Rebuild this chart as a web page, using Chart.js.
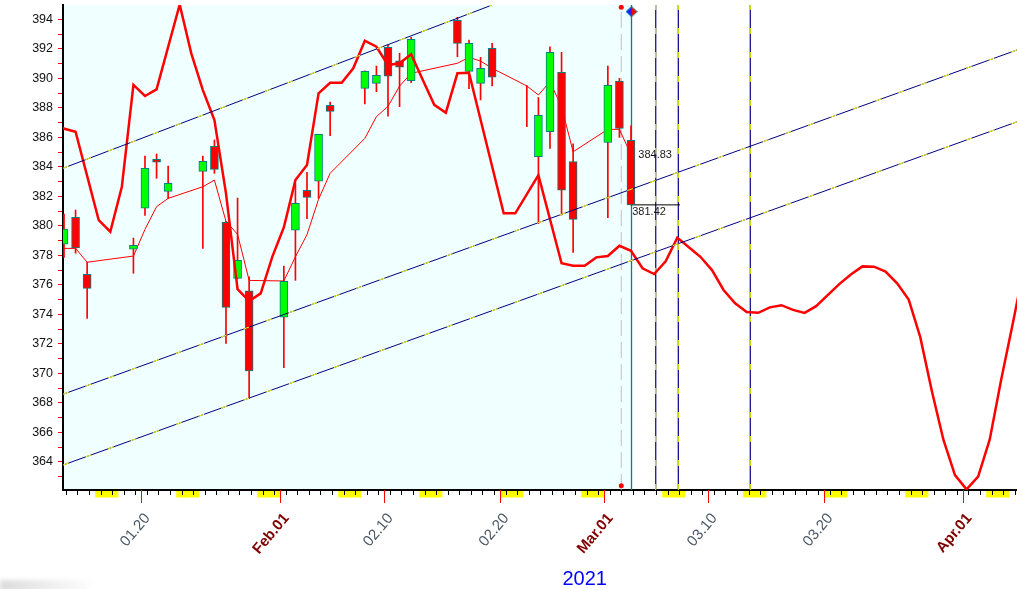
<!DOCTYPE html>
<html>
<head>
<meta charset="utf-8">
<title>2021 candles</title>
<script src="https://cdn.jsdelivr.net/npm/chart.js@4.4.0/dist/chart.umd.min.js"></script>
<style>
html, body { margin: 0; padding: 0; background: #fff; }
#wrap { position: relative; width: 1017px; height: 589px; overflow: hidden; }
#shade { position: absolute; left: 0; top: 580px; width: 95px; height: 12px;
  background: linear-gradient(to right, rgba(205,205,205,0.7), rgba(205,205,205,0)); filter: blur(2px); }
</style>
</head>
<body>
<div id="wrap">
  <canvas id="chart" width="1017" height="589"></canvas>
  <div id="shade"></div>
</div>
<script>
const FONT = "'Liberation Sans', Arial, sans-serif";

// days counted from Jan 1 2021 = 1
const candleDays = [13, 14, 15, 19, 20, 21, 22, 25, 26, 27, 28, 29, 32, 33, 34, 35, 36, 39, 40, 41, 42, 43, 47, 48, 49, 50, 53, 54, 55, 56, 57, 60, 61, 62];
const opens  = [378.76, 380.58, 376.71, 378.41, 381.19, 384.51, 382.34, 383.69, 385.39, 380.24, 376.44, 375.6, 373.8, 379.71, 382.41, 383.02, 388.17, 389.32, 389.66, 392.1, 391.19, 389.84, 393.93, 390.47, 389.66, 392.03, 387.05, 384.68, 386.38, 390.41, 384.35, 385.66, 389.82, 385.8];
const highs  = [380.8, 381.07, 377.53, 379.17, 384.73, 384.87, 384.05, 384.73, 385.82, 380.3, 381.88, 376.55, 377.27, 382.9, 383.63, 386.2, 388.39, 390.5, 390.83, 392.26, 391.7, 392.78, 394.14, 392.6, 391.42, 392.37, 389.5, 388.7, 392.14, 391.76, 385.55, 390.83, 390.0, 386.77];
const lows   = [377.86, 378.14, 373.73, 376.78, 380.71, 383.22, 381.86, 378.47, 383.56, 372.03, 376.4, 368.3, 370.38, 376.3, 380.49, 381.86, 386.11, 388.26, 389.09, 387.44, 388.08, 389.7, 391.46, 389.3, 388.53, 389.48, 386.72, 380.15, 385.25, 380.73, 378.2, 380.55, 386.0, 381.42];
const closes = [379.78, 378.51, 375.76, 378.68, 383.9, 384.31, 382.88, 384.37, 383.83, 374.47, 377.66, 370.16, 376.24, 381.53, 381.93, 386.2, 387.76, 390.47, 390.2, 390.14, 390.75, 392.64, 392.37, 392.37, 390.68, 390.07, 387.05, 387.49, 391.76, 382.41, 380.44, 389.53, 386.61, 381.42];
const avgValues = [378.47, 378.47, 377.53, 377.95, 379.76, 381.3, 381.86, 382.65, 383.1, 380.3, 379.42, 376.3, 376.26, 377.9, 379.4, 381.8, 383.56, 385.93, 387.4, 388.1, 389.47, 390.34, 391.02, 391.42, 391.17, 390.68, 389.48, 388.87, 389.77, 388.07, 385.02, 386.54, 386.54, 384.83];

// thick cycle line
const cycleDays = [12.9, 14, 16, 17, 18, 19, 20, 21, 23, 24, 25, 26, 27, 28, 29, 30, 31, 32, 33, 34, 35, 36, 37, 38, 39, 40, 41, 42, 43, 44, 45, 46, 47, 48, 51, 52, 54, 56, 57, 58, 59, 60, 61, 62, 63, 64, 65, 66, 67, 68, 69, 70, 71, 72, 73, 74, 75, 76, 77, 78, 79, 80, 81, 82, 83, 84, 85, 86, 87, 88, 89, 90, 91, 92, 93, 94, 95, 96];
const cycleValues = [386.61, 386.38, 380.39, 379.6, 382.65, 389.55, 388.8, 389.25, 395.0, 391.69, 389.2, 387.17, 382.2, 375.7, 374.9, 375.42, 377.9, 379.9, 383.1, 384.12, 388.98, 389.7, 389.7, 390.68, 392.55, 392.14, 390.9, 391.02, 391.63, 389.9, 388.2, 387.67, 390.34, 390.38, 380.85, 380.85, 383.44, 377.46, 377.3, 377.3, 377.86, 377.95, 378.65, 378.31, 377.12, 376.73, 377.6, 379.2, 378.55, 377.9, 377.0, 375.65, 374.75, 374.15, 374.1, 374.47, 374.62, 374.3, 374.1, 374.55, 375.3, 376.05, 376.7, 377.25, 377.23, 376.9, 376.1, 375.0, 372.45, 368.8, 365.5, 363.1, 362.13, 363.0, 365.5, 369.6, 373.4, 377.3];

// channel lines, [day, value] at each end
const channelTop = [[12.91, 383.9], [50.0, 394.97]];
const channelMid = [[12.91, 368.58], [95.36, 391.92]];
const channelLow = [[12.91, 363.78], [95.36, 387.05]];

const greyLineDay = 61.16;
const tealLineDay = 62.045;
const cycleLineDays = [64.14, 66.09, 72.31];
const lastClose = 381.42;
const lastAvg = 384.83;
const closeLineEnd = 66.24;

const xLabelDays = [20, 32, 41, 51, 60, 69, 79, 91];
const xLabelTexts = ['01.20', 'Feb.01', '02.10', '02.20', 'Mar.01', '03.10', '03.20', 'Apr.01'];
const monthLabels = ['Feb.01', 'Mar.01', 'Apr.01'];
const saturdays = [16, 23, 30, 37, 44, 51, 58, 65, 72, 79, 86, 93];
const yLabels = [364, 366, 368, 370, 372, 374, 376, 378, 380, 382, 384, 386, 388, 390, 392, 394];

const X_MIN = 12.914, X_MAX = 95.36;
const Y_MIN = 362.09, Y_MAX = 394.97;
const TICK_SHIFT = 0.3;
const YEAR_DAY = 58;

const dayTicks = [];
for (let d = 13; d <= 95; d++) dayTicks.push(d);
const yTicks = [];
for (let v = 363; v <= 394; v++) yTicks.push(v);

const xy = (xs, ys) => xs.map((x, i) => ({ x, y: ys[i] }));
const seg = pts => pts.map(p => ({ x: p[0], y: p[1] }));
const vline = d => [{ x: d, y: Y_MIN }, { x: d, y: Y_MAX }];

function lineSet(data, color, width, order, extra) {
    return Object.assign({ type: 'line', data, borderColor: color, borderWidth: width, pointRadius: 0,
        tension: 0, fill: false, order }, extra || {});
}

function makeDiamond() {
    const c = document.createElement('canvas');
    c.width = 12; c.height = 11;
    const g = c.getContext('2d');
    g.fillStyle = '#1e1eff';
    g.beginPath(); g.moveTo(6, 0.5); g.lineTo(0.5, 5.5); g.lineTo(6, 10.5); g.closePath(); g.fill();
    g.fillStyle = '#ff0000';
    g.beginPath(); g.moveTo(6, 0.5); g.lineTo(11.5, 5.5); g.lineTo(6, 10.5); g.closePath(); g.fill();
    g.strokeStyle = '#008080';
    g.beginPath(); g.moveTo(6, 0.5); g.lineTo(11.5, 5.5); g.lineTo(6, 10.5); g.lineTo(0.5, 5.5); g.closePath(); g.stroke();
    return c;
}

const wickData = candleDays.map((d, i) => ({ x: d, y: [lows[i], highs[i]] }));
const bodyData = candleDays.map((d, i) => ({ x: d, y: [opens[i], closes[i]] }));
const bodyColors = candleDays.map((d, i) => closes[i] >= opens[i] ? '#00ff00' : '#ff0000');

const datasets = [
    lineSet(seg(channelTop), '#ffff00', 1, 1, { borderDash: [6, 18] }),
    lineSet(seg(channelMid), '#ffff00', 1, 1, { borderDash: [6, 18] }),
    lineSet(seg(channelLow), '#ffff00', 1, 1, { borderDash: [6, 18] }),
    lineSet(seg(channelTop), '#000080', 1, 2),
    lineSet(seg(channelMid), '#000080', 1, 2),
    lineSet(seg(channelLow), '#000080', 1, 2),
    lineSet(xy(cycleDays, cycleValues), '#ff0000', 2.5, 5),
    { type: 'bar', data: bodyData, backgroundColor: bodyColors, borderColor: '#008080', borderWidth: 1,
      borderSkipped: false, grouped: false, barThickness: 8, maxBarThickness: 8, order: 8 },
    { type: 'bar', data: wickData, backgroundColor: '#ff0000', borderWidth: 0,
      grouped: false, barThickness: 1, maxBarThickness: 1, order: 9 },
    lineSet(xy(candleDays, avgValues), '#ff0000', 1, 10),
    lineSet([{ x: tealLineDay, y: lastClose }, { x: closeLineEnd, y: lastClose }], '#000000', 1, 12),
    lineSet(vline(tealLineDay), '#008080', 1.3, 13),
    lineSet(vline(greyLineDay), '#c0c0c0', 1, 14, { borderDash: [16, 6] })
];
cycleLineDays.forEach(d => {
    datasets.push(lineSet(vline(d), '#ffff00', 1, 15, { borderDash: [6, 18] }));
    datasets.push(lineSet(vline(d), '#000080', 1.2, 16));
});
datasets.push(lineSet([{ x: tealLineDay, y: 394.52 }], '#008080', 0, 0,
    { showLine: false, pointRadius: 6, pointStyle: makeDiamond() }));
datasets.push(lineSet([{ x: greyLineDay, y: 394.81 }, { x: greyLineDay, y: 362.38 }], '#ff0000', 0, 0,
    { showLine: false, pointRadius: 2.5, pointBackgroundColor: '#ff0000', pointBorderWidth: 0 }));

const backdrop = {
    id: 'backdrop',
    beforeDraw(chart) {
        const { ctx, chartArea: a, scales: { x } } = chart;
        ctx.save();
        ctx.fillStyle = '#f0ffff';
        const right = x.getPixelForValue(tealLineDay);
        ctx.fillRect(a.left, a.top, right - a.left, a.bottom - a.top);
        ctx.fillStyle = '#ffff00';
        saturdays.forEach(d => {
            const x0 = x.getPixelForValue(d - TICK_SHIFT);
            const x1 = Math.min(x.getPixelForValue(d + 2 - TICK_SHIFT), a.right);
            ctx.fillRect(x0, a.bottom + 1, x1 - x0, 6.5);
        });
        ctx.restore();
    },
    afterDraw(chart) {
        const { ctx, chartArea: a, scales: { x, y } } = chart;
        ctx.save();
        ctx.strokeStyle = '#ff0000';
        ctx.lineWidth = 1;
        ctx.beginPath();
        xLabelDays.forEach(d => {
            const px = Math.round(x.getPixelForValue(d - TICK_SHIFT) - 0.5) + 0.5;
            ctx.moveTo(px, a.bottom);
            ctx.lineTo(px, a.bottom + 13);
        });
        ctx.stroke();
        ctx.fillStyle = '#1a1a1a';
        ctx.font = '11px ' + FONT;
        ctx.textAlign = 'left';
        ctx.textBaseline = 'middle';
        ctx.fillText(lastAvg.toFixed(2), x.getPixelForValue(62.63), y.getPixelForValue(lastAvg));
        ctx.textBaseline = 'top';
        ctx.fillText(lastClose.toFixed(2), x.getPixelForValue(62.11), y.getPixelForValue(lastClose) + 2);
        ctx.fillStyle = '#0000ff';
        ctx.font = '20px ' + FONT;
        ctx.textAlign = 'center';
        ctx.textBaseline = 'alphabetic';
        ctx.fillText('2021', x.getPixelForValue(YEAR_DAY), 585);
        ctx.restore();
    }
};

new Chart(document.getElementById('chart'), {
    type: 'line',
    data: { datasets },
    options: {
        responsive: false,
        animation: false,
        devicePixelRatio: 1,
        layout: { autoPadding: false, padding: { top: 5, left: 0, right: 0, bottom: 0 } },
        plugins: { legend: { display: false }, tooltip: { enabled: false } },
        scales: {
            x: {
                type: 'linear', min: X_MIN, max: X_MAX, offset: false, bounds: 'data',
                afterBuildTicks: s => { s.ticks = dayTicks.map(d => ({ value: d - TICK_SHIFT })); },
                afterFit: s => { s.height = 99; s.paddingLeft = 0; s.paddingRight = 0; },
                grid: { drawOnChartArea: false, drawTicks: true, tickLength: 5, color: '#000000', lineWidth: 1 },
                border: { color: '#000000', width: 2 },
                ticks: {
                    autoSkip: false, minRotation: 50, maxRotation: 50, padding: 15, labelOffset: 6,
                    callback: (v, i) => {
                        const k = xLabelDays.indexOf(dayTicks[i]);
                        return k >= 0 ? xLabelTexts[k] : '';
                    },
                    color: c => monthLabels.includes(c.tick && c.tick.label) ? '#800000' : '#4a5866',
                    font: c => ({ family: FONT, size: 15,
                        weight: monthLabels.includes(c.tick && c.tick.label) ? 'bold' : 'normal' })
                }
            },
            y: {
                type: 'linear', min: Y_MIN, max: Y_MAX, bounds: 'data',
                afterBuildTicks: s => { s.ticks = yTicks.map(v => ({ value: v })); },
                afterFit: s => { s.width = 63; s.paddingTop = 0; s.paddingBottom = 0; },
                grid: { drawOnChartArea: false, drawTicks: true, tickLength: 5, color: '#ff0000', lineWidth: 1 },
                border: { color: '#000000', width: 2 },
                ticks: {
                    autoSkip: false, padding: 5, color: '#111111', font: { family: FONT, size: 12.5 },
                    callback: v => yLabels.includes(v) ? String(v) : ''
                }
            }
        }
    },
    plugins: [backdrop]
});
</script>
</body>
</html>
